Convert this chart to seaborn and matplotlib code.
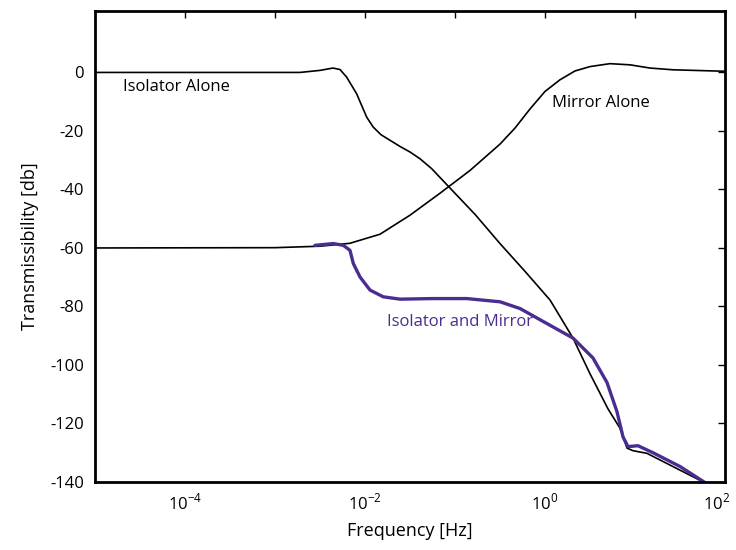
import numpy as np
import pandas as pd
import matplotlib
matplotlib.use("Agg")
import matplotlib.pyplot as plt
import matplotlib.transforms as mtransforms
import seaborn as sns

# Isolator alone (black)
iso_logf = [-5.0, -2.722, -2.5, -2.356, -2.278, -2.204, -2.093, -1.981, -1.908,
            -1.822, -1.722, -1.611, -1.5, -1.389, -1.259, -1.056, -0.778, -0.5,
            -0.222, 0.056, 0.311, 0.5, 0.7, 0.833, 0.911, 0.978, 1.133, 1.778, 2.0]
iso_db = [0.0, 0.0, 0.7, 1.5, 1.0, -1.6, -7.3, -15.3, -18.7,
          -21.3, -23.2, -25.3, -27.2, -29.5, -32.9, -39.5, -48.5, -58.5,
          -68.0, -77.8, -90.8, -103.0, -115.0, -121.6, -128.4, -129.3, -130.2, -140.3, -143.5]

# Mirror alone (black)
mir_logf = [-5.0, -3.0, -2.5, -2.167, -1.833, -1.5, -1.167, -0.833, -0.5,
            -0.333, -0.167, 0.0, 0.167, 0.333, 0.5, 0.722, 0.944, 1.167,
            1.422, 2.0]
mir_db = [-60.0, -59.9, -59.4, -58.4, -55.3, -48.8, -41.3, -33.5, -24.5,
          -19.0, -12.5, -6.5, -2.5, 0.5, 2.0, 3.0, 2.6, 1.5,
          0.9, 0.4]

# Isolator and mirror (purple)
both_logf = [-2.556, -2.352, -2.241, -2.167, -2.130, -2.056, -1.944, -1.797, -1.611,
             -1.241, -0.870, -0.5, -0.278, 0.089, 0.311, 0.533, 0.689, 0.8,
             0.867, 0.922, 1.033, 1.2, 1.5, 1.778, 2.0]
both_db = [-59.1, -58.5, -59.1, -60.8, -65.3, -69.9, -74.4, -76.7, -77.5,
           -77.3, -77.3, -78.4, -80.7, -87.0, -90.8, -97.6, -106.0, -116.0,
           -124.6, -127.9, -127.6, -130.0, -134.7, -140.2, -144.0]

y_ticks = [0, -20, -40, -60, -80, -100, -120, -140]
x_tick_exp = [-4, -3, -2, -1, 0, 1, 2]

purple = "#4b2d91"

iso_df = pd.DataFrame({"f": 10.0 ** np.array(iso_logf), "db": iso_db})
mir_df = pd.DataFrame({"f": 10.0 ** np.array(mir_logf), "db": mir_db})
both_df = pd.DataFrame({"f": 10.0 ** np.array(both_logf), "db": both_db})

sns.set_style("white")
plt.rcParams["font.family"] = ["Open Sans", "DejaVu Sans"]
plt.rcParams["mathtext.fontset"] = "custom"
plt.rcParams["mathtext.rm"] = "Open Sans"
plt.rcParams["text.color"] = "black"
plt.rcParams["axes.labelcolor"] = "black"
plt.rcParams["xtick.color"] = "black"
plt.rcParams["ytick.color"] = "black"

fig = plt.figure(figsize=(7.36, 5.5), dpi=100)
ax = fig.add_axes([95 / 736, 1 - 482 / 550, 630 / 736, 471 / 550])

sns.lineplot(data=iso_df, x="f", y="db", ax=ax, color="black", linewidth=1.2, sort=False)
sns.lineplot(data=mir_df, x="f", y="db", ax=ax, color="black", linewidth=1.2, sort=False)
sns.lineplot(data=both_df, x="f", y="db", ax=ax, color=purple, linewidth=2.4, sort=False)

ax.set_xscale("log")
ax.set_xlim(1e-5, 1e2)
ax.set_ylim(-140, 21)

ax.set_xticks([10.0 ** e for e in x_tick_exp])
ax.set_xticklabels(["$10^{%d}$" % e if e % 2 == 0 else "" for e in x_tick_exp])
ax.xaxis.set_minor_locator(matplotlib.ticker.NullLocator())
ax.set_yticks(y_ticks)
ax.set_yticklabels([str(v) for v in y_ticks])

ax.tick_params(direction="in", length=5, width=1, top=True, right=True,
               labelsize=12, pad=8)
for s in ax.spines.values():
    s.set_linewidth(2)
    s.set_color("black")

# keep the last x label inside the figure
last = ax.get_xticklabels()[-1]
last.set_transform(last.get_transform() + mtransforms.ScaledTranslation(-8 / 100, 0, fig.dpi_scale_trans))

ax.set_xlabel("Frequency [Hz]", fontsize=13, labelpad=6)
ax.set_ylabel("Transmissibility [db]", fontsize=13, labelpad=8)

ax.text(10 ** -4.689, -5.1, "Isolator Alone", fontsize=12, va="center", ha="left")
ax.text(10 ** 0.078, -10.6, "Mirror Alone", fontsize=12, va="center", ha="left")
ax.text(10 ** -1.756, -85.4, "Isolator and Mirror", fontsize=12, va="center",
        ha="left", color=purple)

fig.savefig("out.png", dpi=100)
